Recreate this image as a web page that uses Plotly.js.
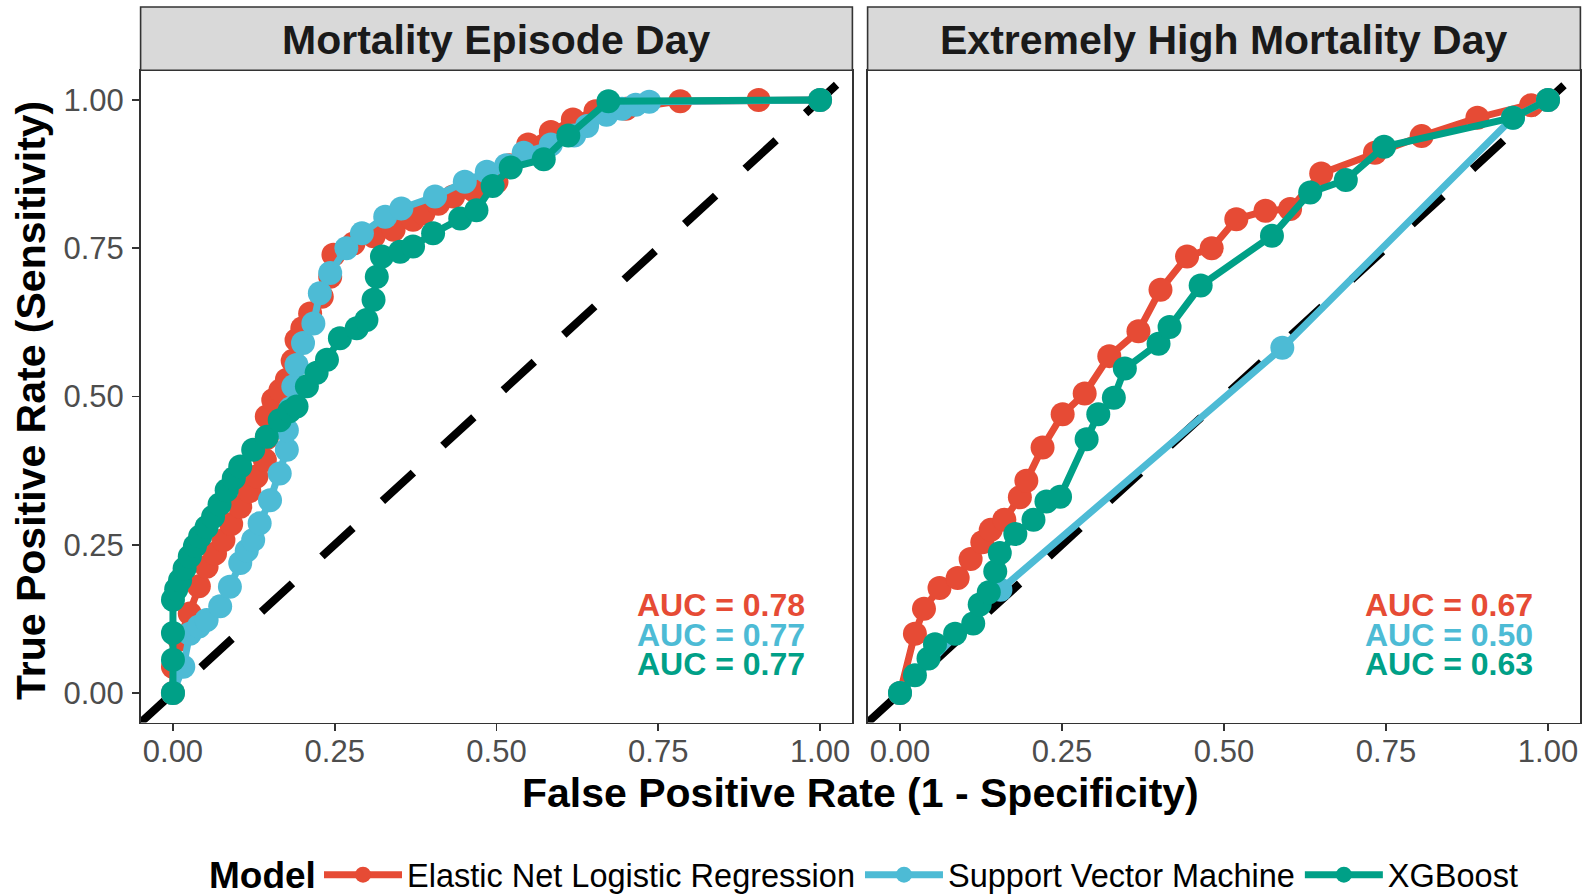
<!DOCTYPE html>
<html>
<head>
<meta charset="utf-8">
<script src="https://cdn.plot.ly/plotly-3.0.1.min.js"></script>
<style>
  html, body { margin: 0; padding: 0; background: #ffffff; }
  #chart { width: 1591px; height: 895px; }
</style>
</head>
<body>
<div id="chart"></div>
<script>
// ROC curves for three classifiers on two outcome definitions
const modelNames = ['Elastic Net Logistic Regression', 'Support Vector Machine', 'XGBoost'];
const modelColors = ['#E64B35', '#4DBBD5', '#00A087'];
const legendHeading = 'Model';
const panelTitles = ['Mortality Episode Day', 'Extremely High Mortality Day'];
const tickVals = [0, 0.25, 0.5, 0.75, 1];
const tickLabels = ['0.00', '0.25', '0.50', '0.75', '1.00'];
const chanceX = [-0.05, 1.05];
const chanceY = [-0.05, 1.05];

// Mortality episode day
const episodeEnetFpr = [0, 0, 0.01, 0.026, 0.04, 0.052, 0.065, 0.078, 0.09, 0.104, 0.118, 0.129, 0.142, 0.145, 0.145, 0.155, 0.166, 0.176, 0.185, 0.191, 0.2, 0.212, 0.23, 0.243, 0.248, 0.279, 0.31, 0.341, 0.371, 0.387, 0.41, 0.433, 0.464, 0.5, 0.52, 0.549, 0.584, 0.618, 0.653, 0.7, 0.784, 0.905, 1];
const episodeEnetTpr = [0, 0.044, 0.09, 0.134, 0.18, 0.213, 0.235, 0.258, 0.285, 0.314, 0.34, 0.365, 0.393, 0.43, 0.466, 0.494, 0.51, 0.528, 0.56, 0.595, 0.615, 0.64, 0.668, 0.702, 0.739, 0.758, 0.77, 0.781, 0.798, 0.809, 0.825, 0.837, 0.848, 0.862, 0.89, 0.925, 0.946, 0.967, 0.981, 0.985, 0.998, 1, 1];

const episodeSvmFpr = [0, 0.016, 0.026, 0.04, 0.052, 0.073, 0.088, 0.104, 0.114, 0.124, 0.134, 0.15, 0.165, 0.176, 0.176, 0.182, 0.186, 0.191, 0.201, 0.217, 0.227, 0.243, 0.268, 0.292, 0.328, 0.353, 0.405, 0.451, 0.485, 0.515, 0.542, 0.584, 0.62, 0.64, 0.67, 0.694, 0.715, 0.736, 1];
const episodeSvmTpr = [0, 0.044, 0.1, 0.112, 0.123, 0.146, 0.179, 0.219, 0.24, 0.258, 0.286, 0.325, 0.37, 0.41, 0.443, 0.48, 0.517, 0.553, 0.59, 0.623, 0.674, 0.708, 0.75, 0.775, 0.803, 0.817, 0.837, 0.862, 0.879, 0.89, 0.911, 0.925, 0.94, 0.956, 0.975, 0.985, 0.992, 0.997, 1];

const episodeXgbFpr = [0, 0, 0, 0, 0.005, 0.011, 0.018, 0.026, 0.034, 0.042, 0.052, 0.062, 0.072, 0.083, 0.094, 0.104, 0.124, 0.145, 0.165, 0.18, 0.191, 0.207, 0.222, 0.238, 0.258, 0.284, 0.299, 0.31, 0.315, 0.323, 0.351, 0.371, 0.402, 0.444, 0.469, 0.494, 0.522, 0.573, 0.611, 0.673, 1];
const episodeXgbTpr = [0, 0.056, 0.101, 0.157, 0.175, 0.19, 0.21, 0.23, 0.248, 0.264, 0.28, 0.297, 0.318, 0.342, 0.362, 0.382, 0.41, 0.432, 0.46, 0.475, 0.483, 0.517, 0.54, 0.562, 0.598, 0.615, 0.629, 0.663, 0.702, 0.736, 0.744, 0.753, 0.775, 0.8, 0.814, 0.855, 0.886, 0.9, 0.94, 0.998, 1];

// Extremely high mortality day
const extremeEnetFpr = [0, 0.023, 0.037, 0.061, 0.089, 0.109, 0.127, 0.14, 0.161, 0.185, 0.195, 0.22, 0.251, 0.285, 0.323, 0.368, 0.402, 0.443, 0.481, 0.519, 0.564, 0.602, 0.65, 0.733, 0.805, 0.891, 0.974, 1];
const extremeEnetTpr = [0, 0.1, 0.142, 0.177, 0.194, 0.226, 0.254, 0.275, 0.292, 0.33, 0.358, 0.414, 0.47, 0.505, 0.568, 0.61, 0.68, 0.736, 0.75, 0.799, 0.813, 0.816, 0.876, 0.911, 0.939, 0.97, 0.991, 1];

const extremeSvmFpr = [0, 0.155, 0.59, 0.946, 1];
const extremeSvmTpr = [0, 0.174, 0.582, 0.97, 1];

const extremeXgbFpr = [0, 0.023, 0.044, 0.054, 0.085, 0.113, 0.123, 0.137, 0.147, 0.154, 0.178, 0.206, 0.226, 0.247, 0.288, 0.306, 0.33, 0.347, 0.399, 0.416, 0.464, 0.574, 0.633, 0.688, 0.747, 0.946, 1];
const extremeXgbTpr = [0, 0.03, 0.058, 0.082, 0.1, 0.117, 0.149, 0.17, 0.205, 0.236, 0.268, 0.292, 0.323, 0.331, 0.428, 0.47, 0.498, 0.547, 0.589, 0.617, 0.687, 0.771, 0.844, 0.865, 0.921, 0.97, 1];

const aucEpisode = [0.78, 0.77, 0.77];
const aucExtreme = [0.67, 0.50, 0.63];

const FONT = 'Liberation Sans, Arial, Helvetica, sans-serif';
const INK = '#333333';

const panels = [
  { xa: 'x', ya: 'y', curves: [[episodeEnetFpr, episodeEnetTpr], [episodeSvmFpr, episodeSvmTpr], [episodeXgbFpr, episodeXgbTpr]], auc: aucEpisode },
  { xa: 'x2', ya: 'y2', curves: [[extremeEnetFpr, extremeEnetTpr], [extremeSvmFpr, extremeSvmTpr], [extremeXgbFpr, extremeXgbTpr]], auc: aucExtreme }
];

const traces = [];
const annotations = [];
panels.forEach((p, pi) => {
  // chance diagonal underneath the curves
  traces.push({
    x: chanceX, y: chanceY, xaxis: p.xa, yaxis: p.ya,
    mode: 'lines', line: { color: '#000000', width: 8, dash: '42px,40px' },
    showlegend: false, hoverinfo: 'skip'
  });
  p.curves.forEach((c, mi) => {
    traces.push({
      x: c[0], y: c[1], xaxis: p.xa, yaxis: p.ya,
      mode: 'lines+markers', name: modelNames[mi], legendgroup: modelNames[mi],
      showlegend: pi === 0,
      line: { color: modelColors[mi], width: 7 },
      marker: { color: modelColors[mi], size: 24 }
    });
  });
  const aucY = [0.148, 0.098, 0.048];
  p.auc.forEach((v, mi) => {
    annotations.push({
      xref: p.xa, yref: p.ya, x: 0.98, y: aucY[mi], xanchor: 'right', yanchor: 'middle',
      text: '<b>AUC = ' + v.toFixed(2) + '</b>', showarrow: false,
      font: { family: FONT, size: 32, color: modelColors[mi] }
    });
  });
});

// panel geometry in pixels
const W = 1591, H = 895;
const px = v => v / W, py = v => 1 - v / H;
const xDom1 = [px(140.6), px(852.4)];
const xDom2 = [px(867.6), px(1580.4)];
const yDom = [py(722.6), py(70.3)];
const stripTop = py(7);

const shapes = [];
[xDom1, xDom2].forEach((d, i) => {
  shapes.push({
    type: 'rect', xref: 'paper', yref: 'paper', x0: d[0], x1: d[1], y0: yDom[1], y1: stripTop,
    fillcolor: '#D9D9D9', line: { color: INK, width: 1.6 }, layer: 'above'
  });
  annotations.push({
    xref: 'paper', yref: 'paper', x: (d[0] + d[1]) / 2, y: py(40),
    xanchor: 'center', yanchor: 'middle', showarrow: false,
    text: '<b>' + panelTitles[i] + '</b>', font: { family: FONT, size: 41, color: '#1A1A1A' }
  });
});

annotations.push({
  xref: 'paper', yref: 'paper', x: (xDom1[0] + xDom2[1]) / 2, y: py(793),
  xanchor: 'center', yanchor: 'middle', showarrow: false,
  text: '<b>False Positive Rate (1 - Specificity)</b>', font: { family: FONT, size: 41, color: '#000000' }
});
annotations.push({
  xref: 'paper', yref: 'paper', x: px(31), y: py(401),
  xanchor: 'center', yanchor: 'middle', showarrow: false, textangle: -90,
  text: '<b>True Positive Rate (Sensitivity)</b>', font: { family: FONT, size: 41, color: '#000000' }
});
// heading placed to the left of the legend keys, on the same baseline
annotations.push({
  xref: 'paper', yref: 'paper', x: px(262), y: py(875),
  xanchor: 'center', yanchor: 'middle', showarrow: false,
  text: '<b>' + legendHeading + '</b>', font: { family: FONT, size: 37, color: '#000000' }
});

const axisBase = {
  range: [-0.05, 1.05], tickvals: tickVals, ticktext: tickLabels,
  ticks: 'outside', ticklen: 7, tickwidth: 1.6, tickcolor: INK,
  showline: true, mirror: true, linecolor: INK, linewidth: 1.6,
  showgrid: false, zeroline: false, fixedrange: true,
  tickfont: { family: FONT, size: 31, color: '#4D4D4D' }
};

const layout = {
  width: W, height: H,
  margin: { l: 0, r: 0, t: 0, b: 0, autoexpand: false },
  paper_bgcolor: '#ffffff', plot_bgcolor: '#ffffff',
  font: { family: FONT },
  xaxis: Object.assign({}, axisBase, { domain: xDom1, anchor: 'y', ticklabelstandoff: -6 }),
  xaxis2: Object.assign({}, axisBase, { domain: xDom2, anchor: 'y2', ticklabelstandoff: -6 }),
  yaxis: Object.assign({}, axisBase, { domain: yDom, anchor: 'x', ticklabelstandoff: 2 }),
  yaxis2: Object.assign({}, axisBase, { domain: yDom, anchor: 'x2', ticks: '', showticklabels: false }),
  showlegend: true,
  legend: {
    orientation: 'h', x: px(319), xanchor: 'left', y: py(875), yanchor: 'middle',
    font: { family: FONT, size: 32.5, color: '#000000' },
    itemwidth: 78, traceorder: 'normal', bgcolor: 'rgba(0,0,0,0)'
  },
  shapes: shapes,
  annotations: annotations
};

Plotly.newPlot('chart', traces, layout, { displayModeBar: false, staticPlot: true });
</script>
</body>
</html>
